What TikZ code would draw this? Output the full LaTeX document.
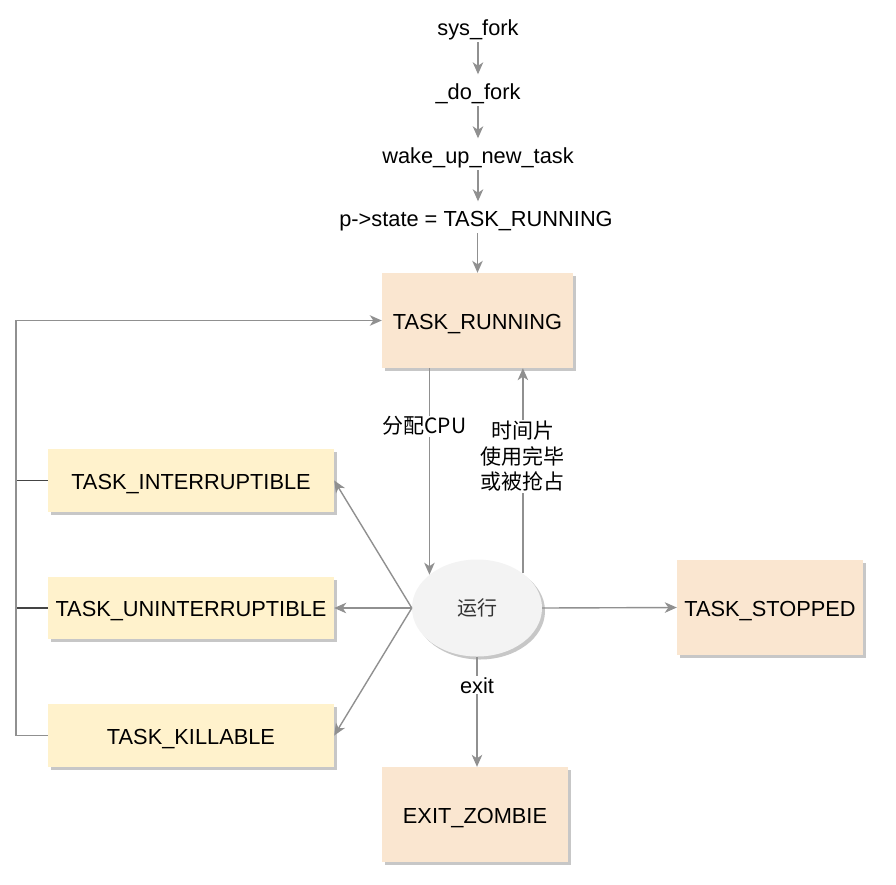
\documentclass[tikz,border=0pt]{standalone}
\usepackage{fontspec}
\setmainfont{Liberation Sans}
\newfontfamily\cjk{Noto Sans CJK SC}
\usetikzlibrary{arrows.meta,shapes.geometric,shadows}
\definecolor{peach}{HTML}{FAE6D0}
\definecolor{lightyellow}{HTML}{FFF2CC}
\definecolor{ellfill}{HTML}{F3F3F3}
\definecolor{linegray}{HTML}{909090}
\definecolor{darkline}{HTML}{444444}
\definecolor{txtgray}{HTML}{333333}
\begin{document}
\begin{tikzpicture}[x=1pt,y=-1pt,
  every node/.style={font=\fontsize{21.8}{25.5}\selectfont, text=black},
  shad/.style={drop shadow={shadow xshift=3pt,shadow yshift=-3pt,fill=black,opacity=0.22}},
  statebox/.style={rectangle,inner sep=0pt,shad,fill=peach,minimum width=186pt,minimum height=95pt,text height=18pt,text depth=1pt},
  waitbox/.style={rectangle,inner sep=0pt,shad,fill=lightyellow,minimum width=286pt,minimum height=63pt,text height=18pt,text depth=1pt},
  calltxt/.style={inner xsep=2pt,inner ysep=2pt,text height=15.5pt,text depth=5pt,anchor=base},
  arr/.style={draw=linegray,line width=1.4pt,-{Stealth[length=12pt,width=10.5pt,inset=3.5pt]}},
  dark/.style={draw=darkline,line width=1.4pt},
  lbl/.style={fill=white,inner sep=1pt,font=\cjk\fontsize{21}{25.5}\selectfont,align=center}
]
\useasboundingbox (0,0) rectangle (896,884);

% call chain
\node[calltxt] (sf) at (478,35) {sys\_fork};
\node[calltxt] (df) at (478,99) {\_do\_fork};
\node[calltxt] (wu) at (478,163) {wake\_up\_new\_task};
\node[calltxt] (ps) at (476,226) {p->state = TASK\_RUNNING};

% states
\node[statebox, minimum width=191pt] (run) at (477.5,320.5) {TASK\_RUNNING};
\node[waitbox] (intr) at (191,480.5) {TASK\_INTERRUPTIBLE};
\node[waitbox, minimum height=62pt] (unint) at (191,608) {TASK\_UNINTERRUPTIBLE};
\node[waitbox] (kill) at (191,735.5) {TASK\_KILLABLE};
\node[statebox] (stop) at (770,607.5) {TASK\_STOPPED};
\node[statebox] (zomb) at (475,814.5) {EXIT\_ZOMBIE};
\node[ellipse, shad, fill=ellfill, inner sep=0pt, minimum width=130pt, minimum height=97pt,
      font=\cjk\fontsize{20}{24}\selectfont, text=txtgray] (ell) at (477,608) {运行};

\coordinate (lx) at (16,0);

% chain arrows
\draw[arr, shorten >=7pt] (sf.south -| df.north) -- (df.north);
\draw[arr, shorten >=7pt] (df.south) -- (wu.north);
\draw[arr, shorten >=7pt] (wu.south) -- (wu.south |- ps.north);
\draw[arr] (ps.south -| run.north) -- (run.north);

% left loop back to running
\draw[dark] (intr.west) -- (intr.west -| lx);
\draw[dark] (unint.west) -- (unint.west -| lx);
\draw[arr] (kill.west) -- (kill.west -| lx) |- (run.west);

% running <-> ellipse
\draw[arr] (ell.145.7 |- run.south) -- node[lbl, pos=0.28, xshift=-5pt] {分配CPU} (ell.145.7);
\draw[arr] (ell.37.9) -- node[lbl, pos=0.57] {时间片\\使用完毕\\或被抢占} (ell.37.9 |- run.south);

% ellipse to wait states
\draw[arr] (ell.west) -- (intr.east);
\draw[arr] (ell.west) -- (unint.east);
\draw[arr] (ell.west) -- (kill.east);

% ellipse to stopped / zombie
\draw[arr] (ell.east) -- (stop.west);
\draw[arr] (ell.south) -- node[lbl, pos=0.26, font=\fontsize{21.8}{25.5}\selectfont] {exit} (ell.south |- zomb.north);
\end{tikzpicture}
\end{document}
